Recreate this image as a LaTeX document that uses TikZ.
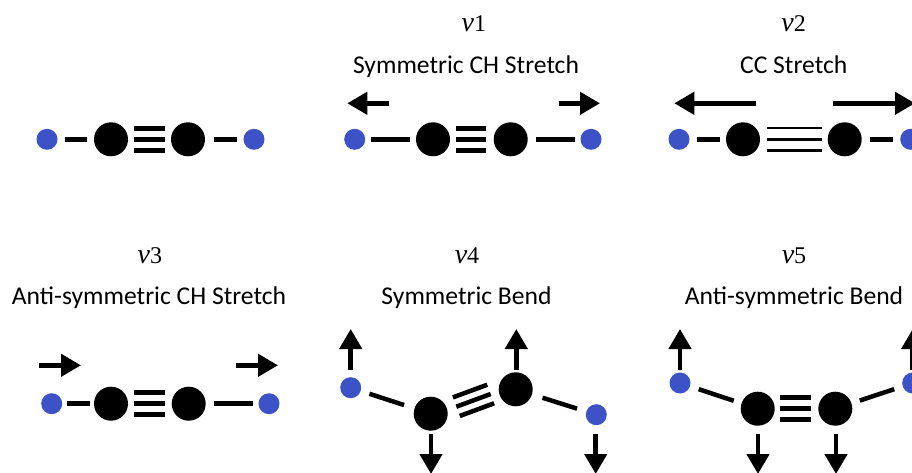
\documentclass[tikz,border=0pt]{standalone}
\usepackage{fontspec}
\setmainfont{Carlito}
\newfontfamily\modefont{Liberation Serif}
\usetikzlibrary{arrows.meta,calc}
\definecolor{hblue}{HTML}{3E52C8}
\tikzset{
  hatom/.style={circle,fill=hblue,inner sep=0pt,minimum size=21pt},
  catom/.style={circle,fill=black,inner sep=0pt,minimum size=34pt},
  bondline/.style={line width=4.5pt,black},
  movearrow/.style={line width=4.5pt,black,-{Triangle[length=20pt,width=22pt]}},
  modelabel/.style={inner sep=0pt,anchor=base,font=\fontsize{24}{28}\selectfont\modefont},
  namelabel/.style={inner sep=0pt,anchor=base,font=\fontsize{25.6}{30}\selectfont}
}
\newcommand{\vmode}[1]{{\itshape\fontsize{28}{31}\selectfont ν}#1}
% single bond between two atoms: gaps from the atom borders
\newcommand{\sbond}[4]{\draw[bondline,shorten <=#3pt,shorten >=#4pt] (#1) -- (#2);}
% triple bond along a--b: shortening from centres, separation, line width
\newcommand{\tbond}[6]{%
  \draw[line width=#6pt,shorten <=#3pt,shorten >=#4pt] ($(#1)!0!(#2)$) -- ($(#2)!0!(#1)$);
  \draw[line width=#6pt,shorten <=#3pt,shorten >=#4pt] ($(#1)!#5pt!90:(#2)$) -- ($(#2)!#5pt!-90:(#1)$);
  \draw[line width=#6pt,shorten <=#3pt,shorten >=#4pt] ($(#1)!#5pt!-90:(#2)$) -- ($(#2)!#5pt!90:(#1)$);}
% displacement arrow between two named free ends
\newcommand{\mvarrow}[3]{%
  \coordinate (#1s) at (#2);
  \coordinate (#1e) at (#3);
  \draw[movearrow] (#1s) -- (#1e);}
\begin{document}
\begin{tikzpicture}[x=1pt,y=-1pt]
\useasboundingbox (0,0) rectangle (912,473);
\clip (0,0) rectangle (912,473);
% panel 0
\node[hatom] (h01) at (47,139.3) {};
\node[catom] (c01) at (111,139.3) {};
\node[catom] (c02) at (188,139.3) {};
\node[hatom] (h02) at (254,139.3) {};
\sbond{h01}{c01}{7}{6.7}
\sbond{c02}{h02}{9}{6.5}
\tbond{c01}{c02}{23}{23.5}{11}{4.5}
% panel 1
\node[modelabel] (m1) at (473.8,32) {\vmode{1}};
\node[namelabel] (n1) at (466,73.5) {Symmetric CH Stretch};
\node[hatom] (h11) at (354.7,139.3) {};
\node[catom] (c11) at (433,139.3) {};
\node[catom] (c12) at (510.7,139.3) {};
\node[hatom] (h12) at (591,139.3) {};
\sbond{h11}{c11}{5.5}{6.3}
\sbond{c12}{h12}{8.3}{5.5}
\tbond{c11}{c12}{23}{24.4}{11}{4.5}
\mvarrow{a11}{388.7,103.3}{347.3,103.3}
\mvarrow{a12}{558.7,103.3}{600,103.3}
% panel 2
\node[modelabel] (m2) at (793.7,32) {\vmode{2}};
\node[namelabel] (n2) at (793.7,73.5) {CC Stretch};
\node[hatom] (h21) at (679,139.3) {};
\node[catom] (c21) at (743,139.3) {};
\node[catom] (c22) at (844.7,139.3) {};
\node[hatom] (h22) at (910.7,139.3) {};
\sbond{h21}{c21}{7.2}{6}
\sbond{c22}{h22}{8.3}{6.9}
\tbond{c21}{c22}{24.3}{23}{11.2}{2.8}
\mvarrow{a21}{755.7,103.3}{674.3,103.3}
\mvarrow{a22}{833.3,103.3}{915,103.3}
% panel 3
\node[modelabel] (m3) at (149.8,263) {\vmode{3}};
\node[namelabel] (n3) at (149,304.5) {Anti-symmetric CH Stretch};
\node[hatom] (h31) at (51.7,403.7) {};
\node[catom] (c31) at (111,403.7) {};
\node[catom] (c32) at (188.7,403.7) {};
\node[hatom] (h32) at (269,403.7) {};
\sbond{h31}{c31}{4.8}{4.3}
\sbond{c32}{h32}{8.3}{5.8}
\tbond{c31}{c32}{23.3}{24}{11}{4.5}
\mvarrow{a31}{39.3,365.3}{81,365.3}
\mvarrow{a32}{236.3,365.3}{278,365.3}
% panel 4
\node[modelabel] (m4) at (467,263) {\vmode{4}};
\node[namelabel] (n4) at (466.5,304.5) {Symmetric Bend};
\node[hatom] (h41) at (350.7,387.7) {};
\node[catom] (c41) at (430.7,413.7) {};
\node[catom] (c42) at (515.7,389.3) {};
\node[hatom] (h42) at (596.3,414.7) {};
\sbond{h41}{c41}{9}{10.8}
\sbond{c42}{h42}{10.9}{9.5}
\coordinate (t4a) at (456.3,406.7);
\coordinate (t4b) at (490.7,394);
\tbond{t4a}{t4b}{0}{0}{9.9}{4.5}
\mvarrow{a41}{350.7,370}{350.7,329}
\mvarrow{a42}{516.3,370}{516.3,329}
\mvarrow{a43}{431,434}{431,474}
\mvarrow{a44}{595.7,434}{595.7,474}
% panel 5
\node[modelabel] (m5) at (794,263) {\vmode{5}};
\node[namelabel] (n5) at (794,304.5) {Anti-symmetric Bend};
\node[hatom] (h51) at (680,383) {};
\node[catom] (c51) at (757.7,408.7) {};
\node[catom] (c52) at (835.3,408.7) {};
\node[hatom] (h52) at (912.7,383) {};
\sbond{h51}{c51}{9}{8}
\sbond{c52}{h52}{8.6}{8.8}
\tbond{c51}{c52}{22.6}{24.3}{11}{4.5}
\mvarrow{a51}{680,370}{680,329}
\mvarrow{a52}{912.7,370}{912.7,329}
\mvarrow{a53}{758,434}{758,474}
\mvarrow{a54}{836,434}{836,474}
\end{tikzpicture}
\end{document}
